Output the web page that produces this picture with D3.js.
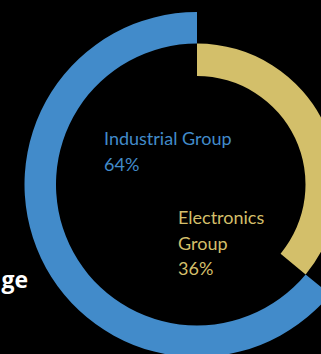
<!DOCTYPE html>
<html>
<head>
<meta charset="utf-8">
<script src="https://cdn.jsdelivr.net/npm/d3@7"></script>
<style>
  html, body { margin: 0; padding: 0; background: #000; overflow: hidden; }
  svg { display: block; }
</style>
</head>
<body>
<script>
// segment data, clockwise from 12 o'clock
var groups = ['Electronics Group', 'Industrial Group'];
var shares = [36, 64];
var labelLines = [['Electronics', 'Group', '36%'], ['Industrial Group', '64%']];
var titleText = 'ge';

var width = 321, height = 354;
var cx = 197, cy = 184.5;

var color = d3.scaleOrdinal()
    .domain(groups)
    .range(['#d3bf6a', '#428bca']);

// each segment sits on its own ring
var ring = {
    'Electronics Group': {inner: 108.5, outer: 141},
    'Industrial Group': {inner: 141, outer: 172.5}
};
var labelPos = {
    'Electronics Group': [178, 224],
    'Industrial Group': [104, 145]
};

var svg = d3.select('body')
    .append('svg')
    .attr('width', width)
    .attr('height', height);

svg.append('rect')
    .attr('width', width)
    .attr('height', height)
    .attr('fill', '#000');

var pie = d3.pie()
    .sort(null)
    .value(function(d) { return d.value; });

var arcs = pie(groups.map(function(g, i) {
    return {name: g, value: shares[i], lines: labelLines[i]};
}));

var g = svg.append('g')
    .attr('transform', 'translate(' + cx + ',' + cy + ')');

g.selectAll('path')
    .data(arcs)
    .enter()
    .append('path')
    .attr('fill', function(d) { return color(d.data.name); })
    .attr('d', function(d) {
        return d3.arc()
            .innerRadius(ring[d.data.name].inner)
            .outerRadius(ring[d.data.name].outer)(d);
    });

var labels = svg.selectAll('text.label')
    .data(arcs)
    .enter()
    .append('text')
    .attr('class', 'label')
    .attr('fill', function(d) { return color(d.data.name); })
    .style('font-family', 'Lato, "Open Sans", sans-serif')
    .style('font-size', '18px');

labels.selectAll('tspan')
    .data(function(d) {
        return d.data.lines.map(function(l, i) {
            return {text: l, i: i, pos: labelPos[d.data.name]};
        });
    })
    .enter()
    .append('tspan')
    .attr('x', function(d) { return d.pos[0]; })
    .attr('y', function(d) { return d.pos[1] + d.i * 25.5; })
    .text(function(d) { return d.text; });

svg.append('text')
    .attr('x', 28)
    .attr('y', 288)
    .attr('text-anchor', 'end')
    .attr('fill', '#fff')
    .style('font-family', '"Open Sans", sans-serif')
    .style('font-weight', 'bold')
    .style('font-size', '23px')
    .text(titleText);
</script>
</body>
</html>
